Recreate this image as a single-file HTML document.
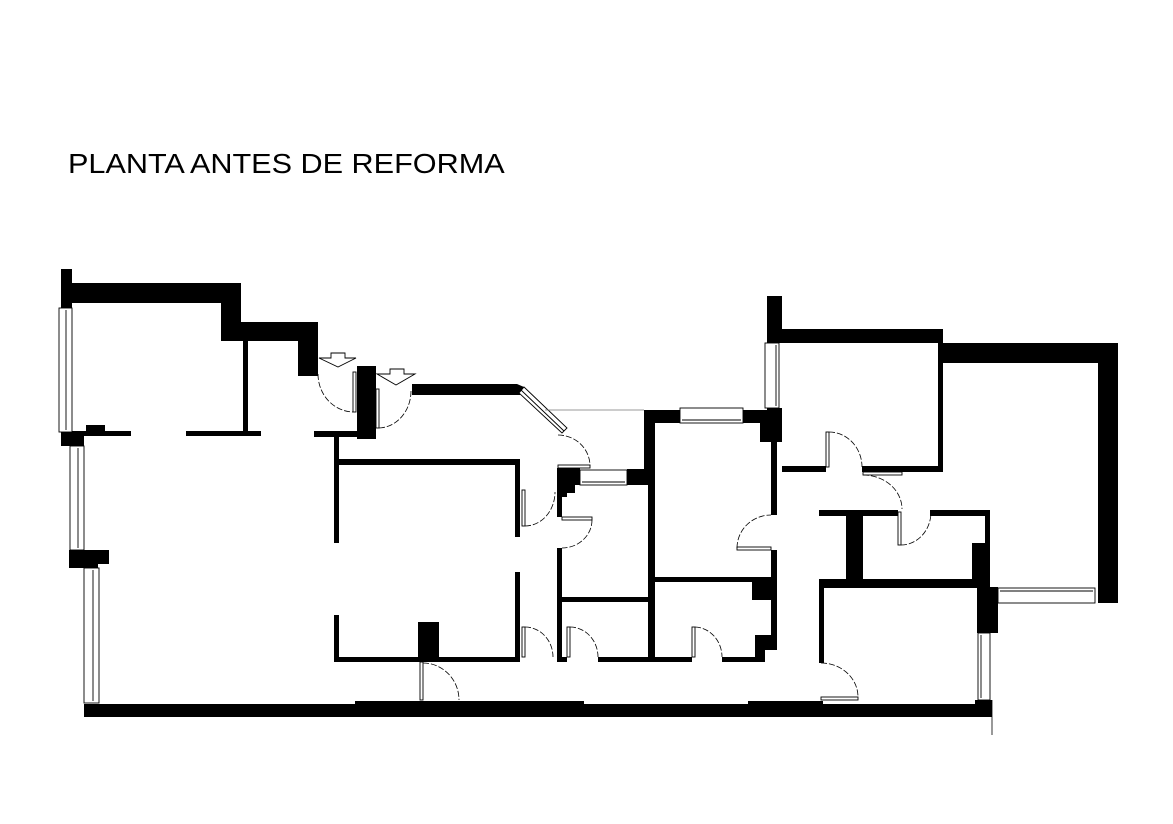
<!DOCTYPE html>
<html><head><meta charset="utf-8"><style>
html,body{margin:0;padding:0;background:#fff;width:1173px;height:824px;overflow:hidden}
svg{display:block}
</style></head><body>
<svg width="1173" height="824" viewBox="0 0 1173 824" xmlns="http://www.w3.org/2000/svg">
<rect width="1173" height="824" fill="#fff"/>
<g transform="translate(68,173) scale(1.094,1)"><text x="0" y="0" font-family="Liberation Sans, sans-serif" font-size="28" fill="#000">PLANTA ANTES DE REFORMA</text></g>
<g fill="#000">
<rect x="61" y="269" width="11" height="39"/>
<rect x="61" y="283" width="180" height="20"/>
<rect x="221" y="283" width="20" height="58"/>
<rect x="221" y="322" width="97" height="19"/>
<rect x="298" y="322" width="20" height="54"/>
<rect x="243" y="341" width="5" height="92"/>
<rect x="84" y="431" width="47" height="5"/>
<rect x="186" y="431" width="75" height="5"/>
<rect x="314" y="431" width="43" height="6"/>
<rect x="86" y="425" width="19" height="6"/>
<rect x="61" y="431" width="23" height="15"/>
<rect x="69" y="550" width="40" height="14"/>
<rect x="69" y="550" width="29" height="18"/>
<rect x="357" y="366" width="19" height="73"/>
<rect x="412" y="384" width="105" height="11"/>
<polygon points="517,384 524,387 520,395 514,395"/>
<rect x="84" y="704" width="908" height="13"/>
<rect x="355" y="701" width="229" height="16"/>
<rect x="748" y="701" width="75" height="16"/>
<rect x="334" y="459" width="186" height="6"/>
<rect x="334" y="437" width="5" height="106"/>
<rect x="334" y="615" width="5" height="47"/>
<rect x="515" y="459" width="5" height="78"/>
<rect x="515" y="572" width="5" height="90"/>
<rect x="334" y="657" width="186" height="5"/>
<rect x="418" y="622" width="21" height="35"/>
<polygon points="557,468 580,468 580,485 575,485 575,493 567,493 567,497 562,497 562,517 557,517"/>
<rect x="557" y="548" width="5" height="114"/>
<rect x="627" y="469" width="21" height="16"/>
<rect x="644" y="410" width="11" height="75"/>
<rect x="648" y="410" width="7" height="252"/>
<rect x="644" y="410" width="36" height="13"/>
<polygon points="743,410 782,410 782,442 777,442 777,515 771,515 771,442 760,442 760,423 743,423"/>
<rect x="782" y="466" width="44" height="6"/>
<rect x="771" y="550" width="6" height="100"/>
<rect x="655" y="577" width="122" height="5"/>
<rect x="752" y="582" width="19" height="18"/>
<rect x="755" y="635" width="22" height="15"/>
<rect x="562" y="597" width="86" height="5"/>
<rect x="557" y="657" width="10" height="5"/>
<rect x="598" y="657" width="94" height="5"/>
<rect x="722" y="657" width="33" height="5"/>
<rect x="755" y="645" width="10" height="17"/>
<rect x="767" y="296" width="15" height="47"/>
<rect x="767" y="329" width="176" height="14"/>
<rect x="767" y="408" width="15" height="32"/>
<rect x="772" y="438" width="5" height="77"/>
<rect x="938" y="343" width="180" height="20"/>
<rect x="1098" y="343" width="20" height="260"/>
<rect x="938" y="343" width="5" height="129"/>
<rect x="862" y="466" width="81" height="6"/>
<rect x="819" y="510" width="79" height="6"/>
<rect x="930" y="510" width="60" height="6"/>
<rect x="985" y="510" width="5" height="77"/>
<rect x="846" y="516" width="17" height="64"/>
<rect x="972" y="543" width="18" height="44"/>
<rect x="819" y="579" width="171" height="9"/>
<rect x="977" y="587" width="21" height="46"/>
<rect x="819" y="580" width="5" height="83"/>
<rect x="975" y="700" width="17" height="17"/>
</g>
<g fill="#fff" stroke="#000" stroke-width="0.9">
<rect x="59" y="308" width="13" height="124"/>
<line x1="66" y1="310" x2="66" y2="430"/>
<rect x="70" y="446" width="14" height="104"/>
<line x1="78" y1="448" x2="78" y2="548"/>
<rect x="84" y="568" width="15" height="135"/>
<line x1="93" y1="570" x2="93" y2="701"/>
<polygon points="524,387 567,428 562,433 519,393"/>
<line x1="521" y1="390" x2="564" y2="431"/>
<rect x="580" y="470" width="47" height="15"/>
<line x1="582" y1="482" x2="625" y2="482"/>
<rect x="680" y="408" width="63" height="15"/>
<line x1="682" y1="420" x2="741" y2="420"/>
<rect x="765" y="343" width="14" height="65"/>
<line x1="776" y1="345" x2="776" y2="406"/>
<rect x="998" y="588" width="97" height="15"/>
<line x1="1000" y1="591" x2="1093" y2="591"/>
<rect x="978" y="633" width="12" height="67"/>
<line x1="981" y1="635" x2="981" y2="698"/>
<polygon points="331,353 345,353 345,358 356,358 338,367 319,358 331,358"/>
<polygon points="390,369 404,369 404,374 415,374 396,385 377,374 390,374"/>
<rect x="353" y="372" width="3" height="40"/>
<rect x="376" y="389" width="3" height="39"/>
<rect x="558" y="465" width="32" height="3"/>
<rect x="522" y="490" width="3" height="36"/>
<rect x="562" y="517" width="30" height="3"/>
<rect x="522" y="627" width="3" height="30"/>
<rect x="567" y="627" width="3" height="30"/>
<rect x="692" y="627" width="3" height="30"/>
<rect x="420" y="662" width="3" height="38"/>
<rect x="737" y="547" width="34" height="3"/>
<rect x="826" y="432" width="3" height="35"/>
<rect x="863" y="472" width="39" height="3"/>
<rect x="898" y="512" width="3" height="33"/>
<rect x="821" y="697" width="37" height="3"/>
</g>
<g fill="none" stroke="#000" stroke-width="0.8">
<line x1="545" y1="410" x2="644" y2="410" stroke="#777"/>
<line x1="992" y1="700" x2="992" y2="735"/>
<path d="M318 374 A36 38 0 0 0 353 412" stroke-dasharray="6,2"/>
<path d="M411 391 A33 37 0 0 1 379 428" stroke-dasharray="6,2"/>
<path d="M558 435 A32 31 0 0 1 590 466" stroke-dasharray="6,2"/>
<path d="M525 526 A30 34 0 0 0 555 492" stroke-dasharray="6,2"/>
<path d="M592 520 A30 28 0 0 1 562 548" stroke-dasharray="6,2"/>
<path d="M525 627 A28 30 0 0 1 553 657" stroke-dasharray="6,2"/>
<path d="M570 627 A28 30 0 0 1 598 657" stroke-dasharray="6,2"/>
<path d="M695 627 A28 30 0 0 1 722 657" stroke-dasharray="6,2"/>
<path d="M423 663 A36 37 0 0 1 459 700" stroke-dasharray="6,2"/>
<path d="M737 548 A34 33 0 0 1 771 515" stroke-dasharray="6,2"/>
<path d="M829 432 A33 35 0 0 1 862 467" stroke-dasharray="6,2"/>
<path d="M863 475 A39 34 0 0 1 902 509" stroke-dasharray="6,2"/>
<path d="M901 545 A30 33 0 0 0 931 512" stroke-dasharray="6,2"/>
<path d="M821 663 A37 34 0 0 1 858 697" stroke-dasharray="6,2"/>
</g>
</svg>
</body></html>
